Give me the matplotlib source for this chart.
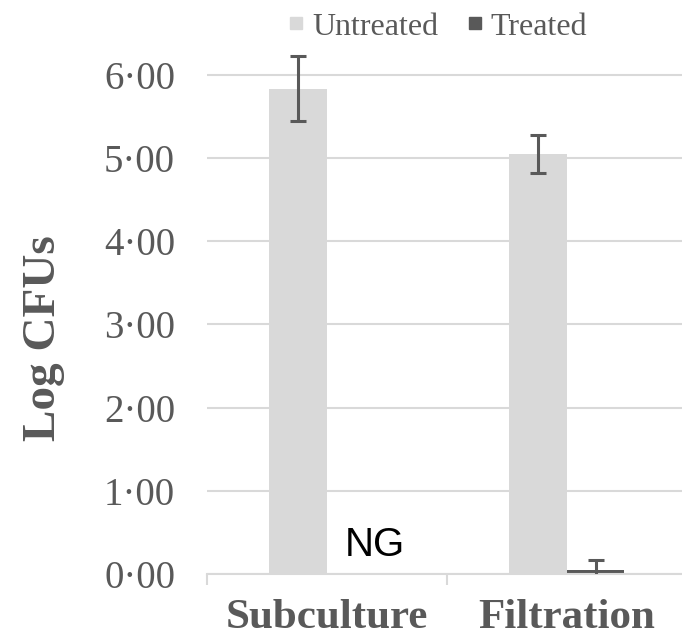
import numpy as np
import matplotlib
matplotlib.use("Agg")
from matplotlib import pyplot as plt
from matplotlib.lines import Line2D
from matplotlib.ticker import FuncFormatter

categories = ["Subculture", "Filtration"]
untreated = [5.83, 5.05]
untreated_err = [0.39, 0.23]
treated = [0.0, 0.05]
treated_err = [0.0, 0.12]
yticks = [0, 1, 2, 3, 4, 5, 6]

light = "#d9d9d9"
dark = "#595959"
serif = "Liberation Serif"

fig = plt.figure(figsize=(6.82, 6.37), dpi=100)
ax = fig.add_axes([207 / 682, 63 / 637, 475 / 682, 541 / 637])

x = np.arange(len(categories))
w = 0.24
ax.bar(x - w / 2, untreated, w, color=light, zorder=2)
ax.bar(x + w / 2, treated, w, color=dark, zorder=2)
ax.errorbar(x - w / 2, untreated, yerr=untreated_err, fmt="none", ecolor=dark,
            elinewidth=2.2, capsize=6, capthick=2.2, zorder=3)
ax.errorbar(x[1:] + w / 2, treated[1:], yerr=treated_err[1:], fmt="none", ecolor=dark,
            elinewidth=2.2, capsize=6, capthick=2.2, zorder=3)

ax.text(x[0] + 0.2, 0.35, "NG", ha="center", va="center", fontsize=29,
        family="Liberation Sans", color="black")

ax.set_xlim(-0.5, 1.48)
ax.set_ylim(0, 6.5)
ax.set_yticks(yticks)
ax.yaxis.set_major_formatter(FuncFormatter(lambda v, p: f"{v:.2f}".replace(".", "\u00b7")))
ax.grid(axis="y", color=light, linewidth=1.5, zorder=0)
ax.set_axisbelow(True)
for s in ["top", "right", "left"]:
    ax.spines[s].set_visible(False)
ax.spines["bottom"].set_color(light)
ax.spines["bottom"].set_linewidth(1.5)

ax.set_xticks(x)
ax.set_xticklabels(categories, fontsize=31, fontweight="bold", family=serif, color=dark)
ax.tick_params(axis="x", length=0, pad=18)
ax.set_xticks([-0.5, 0.5], minor=True)
ax.tick_params(axis="x", which="minor", length=8, color=light, width=1.5)
ax.tick_params(axis="y", length=0, pad=23, labelsize=28, labelcolor=dark)
for t in ax.get_yticklabels():
    t.set_family(serif)
ax.set_ylabel("Log CFUs", fontsize=34, fontweight="bold", family=serif, color=dark)
ax.yaxis.set_label_coords(-0.298, 0.436)

handles = [Line2D([], [], marker="s", linestyle="none", color=light, markersize=8),
           Line2D([], [], marker="s", linestyle="none", color=dark, markersize=8)]
fig.legend(handles, ["Untreated", "Treated"], loc="center", bbox_to_anchor=(437 / 682, 1 - 27 / 637),
           ncol=2, frameon=False, handlelength=0.6, handletextpad=0.2, columnspacing=0.85,
           prop={"family": serif, "size": 23}, labelcolor=dark)

fig.savefig("out.png", dpi=100)
